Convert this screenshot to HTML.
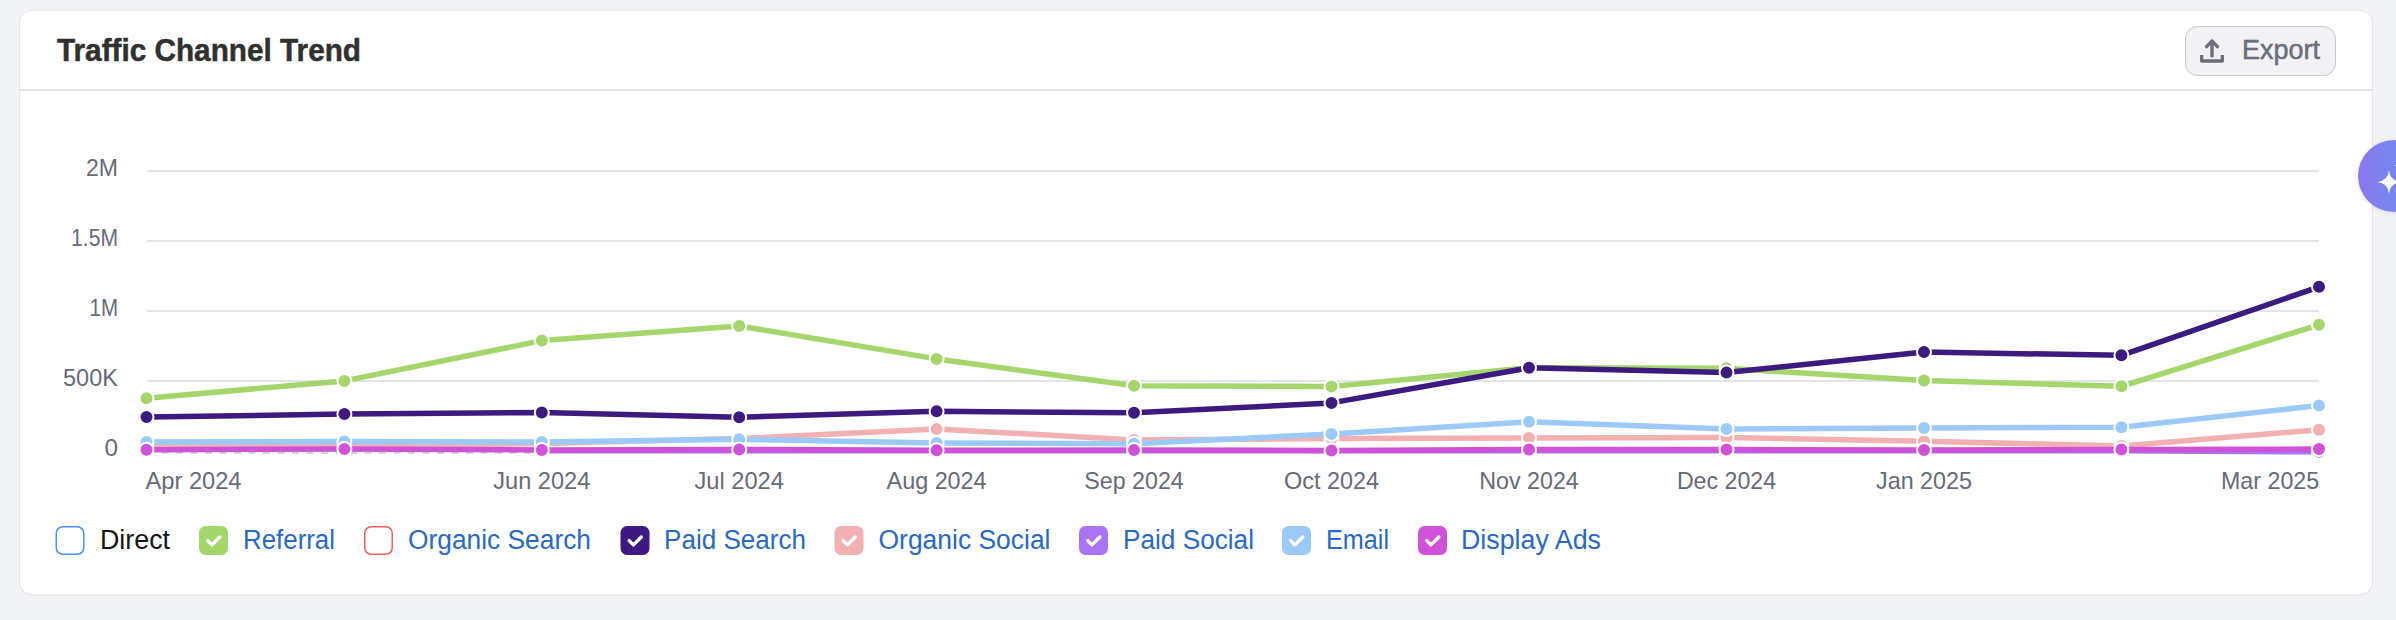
<!DOCTYPE html>
<html><head><meta charset="utf-8"><style>
html,body{margin:0;padding:0;width:2396px;height:620px;overflow:hidden;background:#f2f3f7;font-family:"Liberation Sans",sans-serif;}
.card{position:absolute;left:20px;top:11px;width:2352px;height:583px;background:#fff;border-radius:12px;box-shadow:0 0 0 1px #e6e7ec,0 1px 2px rgba(0,0,0,0.07);}
svg{position:absolute;left:0;top:0;}
svg text{font-family:"Liberation Sans",sans-serif;}
.fab{position:absolute;left:2358px;top:140px;width:72px;height:72px;border-radius:50%;background:linear-gradient(90deg,#8c77ef,#5f94f3);box-shadow:0 1px 4px rgba(90,90,200,0.18);}
</style></head><body>
<div class="card"></div>
<svg width="2396" height="620" viewBox="0 0 2396 620">
<line x1="20" y1="90" x2="2372" y2="90" stroke="#e3e4ea" stroke-width="2"/>
<g stroke="#303030" stroke-width="0.5"><text x="57" y="61" font-size="31.5" fill="#303030" text-anchor="start" font-weight="bold" textLength="304" lengthAdjust="spacingAndGlyphs">Traffic Channel Trend</text></g>
<rect x="2185.5" y="26.5" width="150" height="49" rx="12" fill="#f2f2f5" stroke="#c9cad1" stroke-width="1"/>
<g fill="none" stroke="#6b6e7b" stroke-width="3.4" stroke-linecap="butt" stroke-linejoin="round">
<path d="M2201.7 55 V61 H2222.3 V55"/>
<path d="M2212 57.3 V42" stroke-linecap="butt"/>
<path d="M2206.6 46.6 L2212 41 L2217.4 46.6" stroke-linecap="round"/>
</g>
<g stroke="#6b6e7b" stroke-width="0.5"><text x="2242" y="59" font-size="27" fill="#6b6e7b" text-anchor="start" font-weight="normal" textLength="78" lengthAdjust="spacingAndGlyphs">Export</text></g>
<text x="118" y="176.3" font-size="23" fill="#676a77" text-anchor="end" font-weight="normal" textLength="32" lengthAdjust="spacingAndGlyphs">2M</text><text x="118" y="246.3" font-size="23" fill="#676a77" text-anchor="end" font-weight="normal" textLength="47" lengthAdjust="spacingAndGlyphs">1.5M</text><text x="118" y="316.3" font-size="23" fill="#676a77" text-anchor="end" font-weight="normal" textLength="28.5" lengthAdjust="spacingAndGlyphs">1M</text><text x="118" y="386.3" font-size="23" fill="#676a77" text-anchor="end" font-weight="normal" textLength="55" lengthAdjust="spacingAndGlyphs">500K</text><text x="118" y="456.3" font-size="23" fill="#676a77" text-anchor="end" font-weight="normal" textLength="13.5" lengthAdjust="spacingAndGlyphs">0</text>
<text x="145.5" y="489" font-size="23.2" fill="#676a77" text-anchor="start" font-weight="normal" textLength="96" lengthAdjust="spacingAndGlyphs">Apr 2024</text><text x="541.8" y="489" font-size="23.2" fill="#676a77" text-anchor="middle" font-weight="normal" textLength="97" lengthAdjust="spacingAndGlyphs">Jun 2024</text><text x="739.2" y="489" font-size="23.2" fill="#676a77" text-anchor="middle" font-weight="normal" textLength="89.5" lengthAdjust="spacingAndGlyphs">Jul 2024</text><text x="936.6" y="489" font-size="23.2" fill="#676a77" text-anchor="middle" font-weight="normal" textLength="100" lengthAdjust="spacingAndGlyphs">Aug 2024</text><text x="1134" y="489" font-size="23.2" fill="#676a77" text-anchor="middle" font-weight="normal" textLength="99.5" lengthAdjust="spacingAndGlyphs">Sep 2024</text><text x="1331.5" y="489" font-size="23.2" fill="#676a77" text-anchor="middle" font-weight="normal" textLength="95" lengthAdjust="spacingAndGlyphs">Oct 2024</text><text x="1529" y="489" font-size="23.2" fill="#676a77" text-anchor="middle" font-weight="normal" textLength="99.5" lengthAdjust="spacingAndGlyphs">Nov 2024</text><text x="1726.5" y="489" font-size="23.2" fill="#676a77" text-anchor="middle" font-weight="normal" textLength="99.2" lengthAdjust="spacingAndGlyphs">Dec 2024</text><text x="1924" y="489" font-size="23.2" fill="#676a77" text-anchor="middle" font-weight="normal" textLength="96" lengthAdjust="spacingAndGlyphs">Jan 2025</text><text x="2319.2" y="489" font-size="23.2" fill="#676a77" text-anchor="end" font-weight="normal" textLength="98.2" lengthAdjust="spacingAndGlyphs">Mar 2025</text>
<line x1="147" y1="171" x2="2319" y2="171" stroke="#e3e4ea" stroke-width="2"/>
<line x1="147" y1="241" x2="2319" y2="241" stroke="#e3e4ea" stroke-width="2"/>
<line x1="147" y1="311" x2="2319" y2="311" stroke="#e3e4ea" stroke-width="2"/>
<line x1="147" y1="381" x2="2319" y2="381" stroke="#e3e4ea" stroke-width="2"/>
<line x1="147" y1="452.8" x2="535" y2="452.8" stroke="#c9cece" stroke-width="2" stroke-dasharray="7 7.5"/>
<polyline points="146.5,398.2 344.4,380.9 541.8,340.6 739.2,326 936.6,358.9 1134,385.7 1331.5,386.6 1529,367.8 1726.5,368.3 1924,380.6 2121.4,386.3 2319,324.8" fill="none" stroke="#a4d66c" stroke-width="5.5" stroke-linejoin="round"/>
<circle cx="146.5" cy="398.2" r="7" fill="#a4d66c" stroke="#fff" stroke-width="2"/>
<circle cx="344.4" cy="380.9" r="7" fill="#a4d66c" stroke="#fff" stroke-width="2"/>
<circle cx="541.8" cy="340.6" r="7" fill="#a4d66c" stroke="#fff" stroke-width="2"/>
<circle cx="739.2" cy="326" r="7" fill="#a4d66c" stroke="#fff" stroke-width="2"/>
<circle cx="936.6" cy="358.9" r="7" fill="#a4d66c" stroke="#fff" stroke-width="2"/>
<circle cx="1134" cy="385.7" r="7" fill="#a4d66c" stroke="#fff" stroke-width="2"/>
<circle cx="1331.5" cy="386.6" r="7" fill="#a4d66c" stroke="#fff" stroke-width="2"/>
<circle cx="1529" cy="367.8" r="7" fill="#a4d66c" stroke="#fff" stroke-width="2"/>
<circle cx="1726.5" cy="368.3" r="7" fill="#a4d66c" stroke="#fff" stroke-width="2"/>
<circle cx="1924" cy="380.6" r="7" fill="#a4d66c" stroke="#fff" stroke-width="2"/>
<circle cx="2121.4" cy="386.3" r="7" fill="#a4d66c" stroke="#fff" stroke-width="2"/>
<circle cx="2319" cy="324.8" r="7" fill="#a4d66c" stroke="#fff" stroke-width="2"/>
<polyline points="146.5,417.1 344.4,414.1 541.8,412.4 739.2,417.3 936.6,411.3 1134,412.8 1331.5,402.9 1529,367.8 1726.5,372.5 1924,352.1 2121.4,355.3 2319,286.8" fill="none" stroke="#3d1a7f" stroke-width="5.5" stroke-linejoin="round"/>
<circle cx="146.5" cy="417.1" r="7" fill="#3d1a7f" stroke="#fff" stroke-width="2"/>
<circle cx="344.4" cy="414.1" r="7" fill="#3d1a7f" stroke="#fff" stroke-width="2"/>
<circle cx="541.8" cy="412.4" r="7" fill="#3d1a7f" stroke="#fff" stroke-width="2"/>
<circle cx="739.2" cy="417.3" r="7" fill="#3d1a7f" stroke="#fff" stroke-width="2"/>
<circle cx="936.6" cy="411.3" r="7" fill="#3d1a7f" stroke="#fff" stroke-width="2"/>
<circle cx="1134" cy="412.8" r="7" fill="#3d1a7f" stroke="#fff" stroke-width="2"/>
<circle cx="1331.5" cy="402.9" r="7" fill="#3d1a7f" stroke="#fff" stroke-width="2"/>
<circle cx="1529" cy="367.8" r="7" fill="#3d1a7f" stroke="#fff" stroke-width="2"/>
<circle cx="1726.5" cy="372.5" r="7" fill="#3d1a7f" stroke="#fff" stroke-width="2"/>
<circle cx="1924" cy="352.1" r="7" fill="#3d1a7f" stroke="#fff" stroke-width="2"/>
<circle cx="2121.4" cy="355.3" r="7" fill="#3d1a7f" stroke="#fff" stroke-width="2"/>
<circle cx="2319" cy="286.8" r="7" fill="#3d1a7f" stroke="#fff" stroke-width="2"/>
<polyline points="146.5,446.5 344.4,446.5 541.8,443.5 739.2,438.6 936.6,428.9 1134,440 1331.5,438.5 1529,437.9 1726.5,437.5 1924,441.2 2121.4,446 2319,429.7" fill="none" stroke="#f2b0b3" stroke-width="5.5" stroke-linejoin="round"/>
<circle cx="146.5" cy="446.5" r="7" fill="#f2b0b3" stroke="#fff" stroke-width="2"/>
<circle cx="344.4" cy="446.5" r="7" fill="#f2b0b3" stroke="#fff" stroke-width="2"/>
<circle cx="541.8" cy="443.5" r="7" fill="#f2b0b3" stroke="#fff" stroke-width="2"/>
<circle cx="739.2" cy="438.6" r="7" fill="#f2b0b3" stroke="#fff" stroke-width="2"/>
<circle cx="936.6" cy="428.9" r="7" fill="#f2b0b3" stroke="#fff" stroke-width="2"/>
<circle cx="1134" cy="440" r="7" fill="#f2b0b3" stroke="#fff" stroke-width="2"/>
<circle cx="1331.5" cy="438.5" r="7" fill="#f2b0b3" stroke="#fff" stroke-width="2"/>
<circle cx="1529" cy="437.9" r="7" fill="#f2b0b3" stroke="#fff" stroke-width="2"/>
<circle cx="1726.5" cy="437.5" r="7" fill="#f2b0b3" stroke="#fff" stroke-width="2"/>
<circle cx="1924" cy="441.2" r="7" fill="#f2b0b3" stroke="#fff" stroke-width="2"/>
<circle cx="2121.4" cy="446" r="7" fill="#f2b0b3" stroke="#fff" stroke-width="2"/>
<circle cx="2319" cy="429.7" r="7" fill="#f2b0b3" stroke="#fff" stroke-width="2"/>
<polyline points="541.8,450.8 739.2,450.8 936.6,450.8 1134,450.8 1331.5,450.8 1529,450.8 1726.5,450.8 1924,450.8 2121.4,450.8 2319,451.8" fill="none" stroke="#a874f4" stroke-width="5.5" stroke-linejoin="round"/>
<circle cx="541.8" cy="450.8" r="7" fill="#a874f4" stroke="#fff" stroke-width="2"/>
<circle cx="739.2" cy="450.8" r="7" fill="#a874f4" stroke="#fff" stroke-width="2"/>
<circle cx="936.6" cy="450.8" r="7" fill="#a874f4" stroke="#fff" stroke-width="2"/>
<circle cx="1134" cy="450.8" r="7" fill="#a874f4" stroke="#fff" stroke-width="2"/>
<circle cx="1331.5" cy="450.8" r="7" fill="#a874f4" stroke="#fff" stroke-width="2"/>
<circle cx="1529" cy="450.8" r="7" fill="#a874f4" stroke="#fff" stroke-width="2"/>
<circle cx="1726.5" cy="450.8" r="7" fill="#a874f4" stroke="#fff" stroke-width="2"/>
<circle cx="1924" cy="450.8" r="7" fill="#a874f4" stroke="#fff" stroke-width="2"/>
<circle cx="2121.4" cy="450.8" r="7" fill="#a874f4" stroke="#fff" stroke-width="2"/>
<circle cx="2319" cy="451.8" r="7" fill="#a874f4" stroke="#fff" stroke-width="2"/>
<polyline points="146.5,442 344.4,441.5 541.8,442 739.2,439.3 936.6,442.9 1134,443.8 1331.5,434 1529,421.8 1726.5,429.1 1924,428.1 2121.4,427.2 2319,405.5" fill="none" stroke="#9ccaf8" stroke-width="5.5" stroke-linejoin="round"/>
<circle cx="146.5" cy="442" r="7" fill="#9ccaf8" stroke="#fff" stroke-width="2"/>
<circle cx="344.4" cy="441.5" r="7" fill="#9ccaf8" stroke="#fff" stroke-width="2"/>
<circle cx="541.8" cy="442" r="7" fill="#9ccaf8" stroke="#fff" stroke-width="2"/>
<circle cx="739.2" cy="439.3" r="7" fill="#9ccaf8" stroke="#fff" stroke-width="2"/>
<circle cx="936.6" cy="442.9" r="7" fill="#9ccaf8" stroke="#fff" stroke-width="2"/>
<circle cx="1134" cy="443.8" r="7" fill="#9ccaf8" stroke="#fff" stroke-width="2"/>
<circle cx="1331.5" cy="434" r="7" fill="#9ccaf8" stroke="#fff" stroke-width="2"/>
<circle cx="1529" cy="421.8" r="7" fill="#9ccaf8" stroke="#fff" stroke-width="2"/>
<circle cx="1726.5" cy="429.1" r="7" fill="#9ccaf8" stroke="#fff" stroke-width="2"/>
<circle cx="1924" cy="428.1" r="7" fill="#9ccaf8" stroke="#fff" stroke-width="2"/>
<circle cx="2121.4" cy="427.2" r="7" fill="#9ccaf8" stroke="#fff" stroke-width="2"/>
<circle cx="2319" cy="405.5" r="7" fill="#9ccaf8" stroke="#fff" stroke-width="2"/>
<polyline points="146.5,449.8 344.4,449 541.8,450 739.2,449.4 936.6,450.3 1134,450 1331.5,450.4 1529,449.4 1726.5,449.6 1924,450 2121.4,449.4 2319,449.1" fill="none" stroke="#cf52d9" stroke-width="5.5" stroke-linejoin="round"/>
<circle cx="146.5" cy="449.8" r="7" fill="#cf52d9" stroke="#fff" stroke-width="2"/>
<circle cx="344.4" cy="449" r="7" fill="#cf52d9" stroke="#fff" stroke-width="2"/>
<circle cx="541.8" cy="450" r="7" fill="#cf52d9" stroke="#fff" stroke-width="2"/>
<circle cx="739.2" cy="449.4" r="7" fill="#cf52d9" stroke="#fff" stroke-width="2"/>
<circle cx="936.6" cy="450.3" r="7" fill="#cf52d9" stroke="#fff" stroke-width="2"/>
<circle cx="1134" cy="450" r="7" fill="#cf52d9" stroke="#fff" stroke-width="2"/>
<circle cx="1331.5" cy="450.4" r="7" fill="#cf52d9" stroke="#fff" stroke-width="2"/>
<circle cx="1529" cy="449.4" r="7" fill="#cf52d9" stroke="#fff" stroke-width="2"/>
<circle cx="1726.5" cy="449.6" r="7" fill="#cf52d9" stroke="#fff" stroke-width="2"/>
<circle cx="1924" cy="450" r="7" fill="#cf52d9" stroke="#fff" stroke-width="2"/>
<circle cx="2121.4" cy="449.4" r="7" fill="#cf52d9" stroke="#fff" stroke-width="2"/>
<circle cx="2319" cy="449.1" r="7" fill="#cf52d9" stroke="#fff" stroke-width="2"/>
<rect x="56.25" y="526.75" width="27.5" height="27.5" rx="6.5" fill="#fff" stroke="#4a90ee" stroke-width="1.5"/>
<text x="100" y="549" font-size="27" fill="#161616" text-anchor="start" font-weight="normal" textLength="70" lengthAdjust="spacingAndGlyphs">Direct</text>
<rect x="199.0" y="526" width="29" height="29" rx="6.5" fill="#a4d66c"/>
<path d="M207.7 540.6 L211.9 544.9 L219.8 537" fill="none" stroke="#fff" stroke-width="3.4" stroke-linecap="round" stroke-linejoin="round"/>
<text x="243" y="549" font-size="27" fill="#2a68c2" text-anchor="start" font-weight="normal" textLength="92" lengthAdjust="spacingAndGlyphs">Referral</text>
<rect x="364.75" y="526.75" width="27.5" height="27.5" rx="6.5" fill="#fff" stroke="#e95f5f" stroke-width="1.5"/>
<text x="408" y="549" font-size="27" fill="#2a68c2" text-anchor="start" font-weight="normal" textLength="183" lengthAdjust="spacingAndGlyphs">Organic Search</text>
<rect x="620.5" y="526" width="29" height="29" rx="6.5" fill="#3d1a7f"/>
<path d="M629.2 540.6 L633.4 544.9 L641.3 537" fill="none" stroke="#fff" stroke-width="3.4" stroke-linecap="round" stroke-linejoin="round"/>
<text x="664" y="549" font-size="27" fill="#2a68c2" text-anchor="start" font-weight="normal" textLength="142" lengthAdjust="spacingAndGlyphs">Paid Search</text>
<rect x="834.5" y="526" width="29" height="29" rx="6.5" fill="#f2b0b3"/>
<path d="M843.2 540.6 L847.4 544.9 L855.3 537" fill="none" stroke="#fff" stroke-width="3.4" stroke-linecap="round" stroke-linejoin="round"/>
<text x="878.5" y="549" font-size="27" fill="#2a68c2" text-anchor="start" font-weight="normal" textLength="172" lengthAdjust="spacingAndGlyphs">Organic Social</text>
<rect x="1079.0" y="526" width="29" height="29" rx="6.5" fill="#a874f4"/>
<path d="M1087.7 540.6 L1091.9 544.9 L1099.8 537" fill="none" stroke="#fff" stroke-width="3.4" stroke-linecap="round" stroke-linejoin="round"/>
<text x="1123" y="549" font-size="27" fill="#2a68c2" text-anchor="start" font-weight="normal" textLength="131" lengthAdjust="spacingAndGlyphs">Paid Social</text>
<rect x="1282.0" y="526" width="29" height="29" rx="6.5" fill="#9ccaf8"/>
<path d="M1290.7 540.6 L1294.9 544.9 L1302.8 537" fill="none" stroke="#fff" stroke-width="3.4" stroke-linecap="round" stroke-linejoin="round"/>
<text x="1326" y="549" font-size="27" fill="#2a68c2" text-anchor="start" font-weight="normal" textLength="63" lengthAdjust="spacingAndGlyphs">Email</text>
<rect x="1418.0" y="526" width="29" height="29" rx="6.5" fill="#cf52d9"/>
<path d="M1426.7 540.6 L1430.9 544.9 L1438.8 537" fill="none" stroke="#fff" stroke-width="3.4" stroke-linecap="round" stroke-linejoin="round"/>
<text x="1461" y="549" font-size="27" fill="#2a68c2" text-anchor="start" font-weight="normal" textLength="140" lengthAdjust="spacingAndGlyphs">Display Ads</text>
</svg>
<div class="fab"></div>
<svg width="2396" height="620" viewBox="0 0 2396 620" style="pointer-events:none">
<path d="M2389 170.3 Q2390 180.5 2400.5 182 Q2390 183.5 2389 193.7 Q2388 183.5 2377.5 182 Q2388 180.5 2389 170.3Z" fill="#fff"/>
<path d="M2398 161 Q2398.3 165 2402 165.5 Q2398.3 166 2398 170 Q2397.7 166 2394.5 165.5 Q2397.7 165 2398 161Z" fill="#fff"/>
</svg>
</body></html>
